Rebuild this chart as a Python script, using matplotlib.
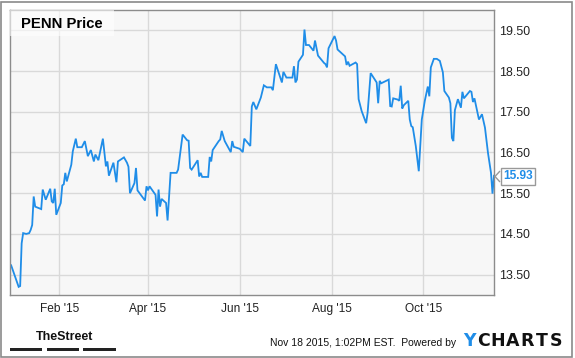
import matplotlib
matplotlib.use("Agg")
import matplotlib.pyplot as plt
from matplotlib.patches import Rectangle, Polygon
import pandas as pd

plt.rcParams['font.family'] = ['Liberation Sans', 'DejaVu Sans']

# PENN closing prices
dates = [
    "2014-12-31", "2015-01-05", "2015-01-06", "2015-01-07", "2015-01-08", "2015-01-10",
    "2015-01-12", "2015-01-13", "2015-01-14", "2015-01-15", "2015-01-16", "2015-01-20",
    "2015-01-21", "2015-01-23", "2015-01-26", "2015-01-27", "2015-01-28", "2015-01-29",
    "2015-01-30", "2015-02-02", "2015-02-03", "2015-02-04", "2015-02-05", "2015-02-06",
    "2015-02-09", "2015-02-10", "2015-02-12", "2015-02-13", "2015-02-16", "2015-02-18",
    "2015-02-20", "2015-02-22", "2015-02-24", "2015-02-25", "2015-02-27", "2015-03-02",
    "2015-03-04", "2015-03-05", "2015-03-06", "2015-03-09", "2015-03-11", "2015-03-12",
    "2015-03-16", "2015-03-18", "2015-03-19", "2015-03-20", "2015-03-23", "2015-03-24",
    "2015-03-25", "2015-03-26", "2015-03-30", "2015-03-31", "2015-04-01", "2015-04-02",
    "2015-04-06", "2015-04-07", "2015-04-08", "2015-04-09", "2015-04-10", "2015-04-13",
    "2015-04-14", "2015-04-16", "2015-04-20", "2015-04-21", "2015-04-24", "2015-04-27",
    "2015-04-28", "2015-04-29", "2015-04-30", "2015-05-04", "2015-05-05", "2015-05-06",
    "2015-05-07", "2015-05-11", "2015-05-12", "2015-05-13", "2015-05-14", "2015-05-18",
    "2015-05-19", "2015-05-20", "2015-05-22", "2015-05-26", "2015-05-27", "2015-05-28",
    "2015-06-01", "2015-06-03", "2015-06-04", "2015-06-08", "2015-06-09", "2015-06-10",
    "2015-06-12", "2015-06-15", "2015-06-17", "2015-06-19", "2015-06-22", "2015-06-23",
    "2015-06-25", "2015-06-29", "2015-06-30", "2015-07-02", "2015-07-06", "2015-07-07",
    "2015-07-08", "2015-07-09", "2015-07-10", "2015-07-13", "2015-07-14", "2015-07-15",
    "2015-07-17", "2015-07-20", "2015-07-21", "2015-07-23", "2015-07-27", "2015-07-28",
    "2015-07-29", "2015-07-30", "2015-08-03", "2015-08-04", "2015-08-05", "2015-08-10",
    "2015-08-11", "2015-08-12", "2015-08-13", "2015-08-17", "2015-08-18", "2015-08-19",
    "2015-08-21", "2015-08-24", "2015-08-25", "2015-08-27", "2015-08-31", "2015-09-01",
    "2015-09-02", "2015-09-03", "2015-09-08", "2015-09-09", "2015-09-10", "2015-09-11",
    "2015-09-14", "2015-09-15", "2015-09-16", "2015-09-17", "2015-09-18", "2015-09-21",
    "2015-09-22", "2015-09-23", "2015-09-24", "2015-09-26", "2015-09-28", "2015-09-30",
    "2015-10-02", "2015-10-04", "2015-10-05", "2015-10-06", "2015-10-08", "2015-10-10",
    "2015-10-12", "2015-10-14", "2015-10-15", "2015-10-18", "2015-10-19", "2015-10-20",
    "2015-10-21", "2015-10-22", "2015-10-24", "2015-10-26", "2015-10-27", "2015-10-28",
    "2015-11-01", "2015-11-02", "2015-11-03", "2015-11-04", "2015-11-07", "2015-11-09",
    "2015-11-10", "2015-11-11", "2015-11-13", "2015-11-15", "2015-11-16", "2015-11-17",
]
prices = [
    13.73, 13.20, 13.22, 14.27, 14.52, 14.50,
    14.52, 14.60, 14.72, 15.42, 15.17, 15.11,
    15.59, 15.34, 15.61, 15.30, 15.26, 15.61,
    14.97, 15.26, 15.69, 15.72, 16.00, 15.79,
    16.20, 16.53, 16.84, 16.63, 16.63, 16.78,
    16.41, 16.56, 16.28, 16.45, 16.31, 16.84,
    16.16, 16.28, 15.93, 16.25, 15.77, 16.28,
    16.38, 16.25, 16.15, 15.50, 15.75, 16.12,
    15.57, 15.52, 15.32, 15.67, 15.57, 15.67,
    15.46, 14.93, 15.59, 15.17, 15.36, 15.26,
    14.83, 16.00, 16.00, 16.08, 16.94, 16.80,
    16.79, 16.12, 16.08, 16.31, 15.91, 16.00,
    15.90, 15.90, 16.39, 16.28, 16.56, 16.78,
    16.82, 17.03, 16.78, 16.51, 16.78, 16.64,
    16.59, 16.51, 16.84, 16.66, 17.63, 17.74,
    17.56, 17.85, 18.15, 18.10, 18.10, 18.03,
    18.67, 18.22, 18.48, 18.34, 18.34, 18.62,
    18.22, 18.29, 18.73, 18.90, 19.52, 19.14,
    19.14, 19.00, 19.25, 18.88, 18.70, 18.67,
    18.59, 19.06, 19.36, 19.25, 19.03, 18.86,
    18.65, 18.73, 18.63, 18.71, 18.67, 17.81,
    17.52, 17.22, 17.48, 18.45, 18.22, 17.71,
    18.26, 18.20, 18.29, 17.64, 17.63, 17.83,
    17.80, 17.77, 18.14, 17.58, 17.66, 17.77,
    17.31, 17.15, 17.12, 16.66, 16.04, 17.31,
    17.77, 18.12, 17.88, 18.59, 18.80, 18.80,
    18.75, 18.47, 18.01, 17.85, 17.71, 16.86,
    16.78, 17.54, 17.81, 17.60, 17.99, 17.83,
    18.01, 17.99, 17.74, 17.83, 17.31, 17.44,
    17.27, 17.11, 16.49, 16.00, 15.49, 15.93,
]
last_price = "15.93"

y_ticks = [13.5, 14.5, 15.5, 16.5, 17.5, 18.5, 19.5]
x_ticks = ["2015-02-01", "2015-04-01", "2015-06-01", "2015-08-01", "2015-10-01"]
x_labels = ["Feb '15", "Apr '15", "Jun '15", "Aug '15", "Oct '15"]

dates = pd.to_datetime(dates)
blue = '#1f8de8'

W, H = 575, 358
fig = plt.figure(figsize=(W / 100, H / 100), dpi=100)
fig.patch.set_facecolor('white')

# outer frame of the image
fig.patches.append(Rectangle((1 / W, 1 / H), 571 / W, 355 / H, transform=fig.transFigure,
                             fill=False, edgecolor='#8a8a8a', lw=1.2))

left, top, right, bottom = 10, 10, 494, 295
ax = fig.add_axes([left / W, 1 - bottom / H, (right - left) / W, (bottom - top) / H])
ax.set_facecolor('#f7f7f7')

ax.plot(dates, prices, color=blue, lw=1.3, solid_joinstyle='miter')

ax.set_ylim(13.0, 20.0)
ax.set_xlim(pd.Timestamp("2014-12-30 06:00"), pd.Timestamp("2015-11-17"))

ax.set_yticks(y_ticks)
ax.set_yticklabels([f"{v:.2f}" for v in y_ticks])
ax.set_xticks(pd.to_datetime(x_ticks))
ax.set_xticklabels(x_labels)
ax.yaxis.tick_right()
ax.tick_params(axis='y', length=0, pad=3.5, labelsize=8.9, labelcolor='#222222')
ax.tick_params(axis='x', length=0, pad=6, labelsize=8.6, labelcolor='#222222')

ax.grid(True, color='#d9d9d9', lw=1)
ax.set_axisbelow(True)
for s in ax.spines.values():
    s.set_color('#8c8c8c')
    s.set_linewidth(1)

# title box in the corner
ax.add_patch(Rectangle((0, 1), 104 / (right - left), -26 / (bottom - top), transform=ax.transAxes,
                       facecolor='white', alpha=0.6, edgecolor='none', zorder=3))
fig.text(21 / W, 1 - 24 / H, "PENN Price", fontsize=10.7, fontweight='bold', color='black',
         va='center', ha='left')

# last value marker
fig.text(503 / W, 1 - 176.5 / H, last_price, fontsize=8.6, fontweight='bold', color=blue,
         va='center', ha='left',
         bbox=dict(boxstyle='square,pad=0.2', facecolor='white', edgecolor='#999999', lw=1))
fig.patches.append(Polygon([(500 / W, 1 - 171 / H), (495 / W, 1 - 176.5 / H), (500 / W, 1 - 182 / H)],
                           closed=False, fill=False, edgecolor='#999999', lw=1,
                           transform=fig.transFigure))

# footer
fig.text(36 / W, 1 - 336.5 / H, "TheStreet", fontsize=9, fontweight='bold', color='#111111',
         va='center', ha='left')
for x0, x1 in [(10, 42), (47, 79), (83, 116)]:
    fig.patches.append(Rectangle((x0 / W, 1 - 350.5 / H), (x1 - x0) / W, 3 / H,
                                 transform=fig.transFigure, facecolor='#222222', edgecolor='none'))

fig.text(270 / W, 1 - 343.5 / H, "Nov 18 2015, 1:02PM EST.  Powered by", fontsize=7.45,
         color='#111111', va='center', ha='left')
for i, ch in enumerate("YCHARTS"):
    fig.text((469 + i * 14.5) / W, 1 - 340.5 / H, ch, fontsize=12.5, fontweight='bold',
             family='DejaVu Sans', color=blue if i == 0 else '#111111',
             va='center', ha='center')

fig.savefig("out.png", dpi=100)
